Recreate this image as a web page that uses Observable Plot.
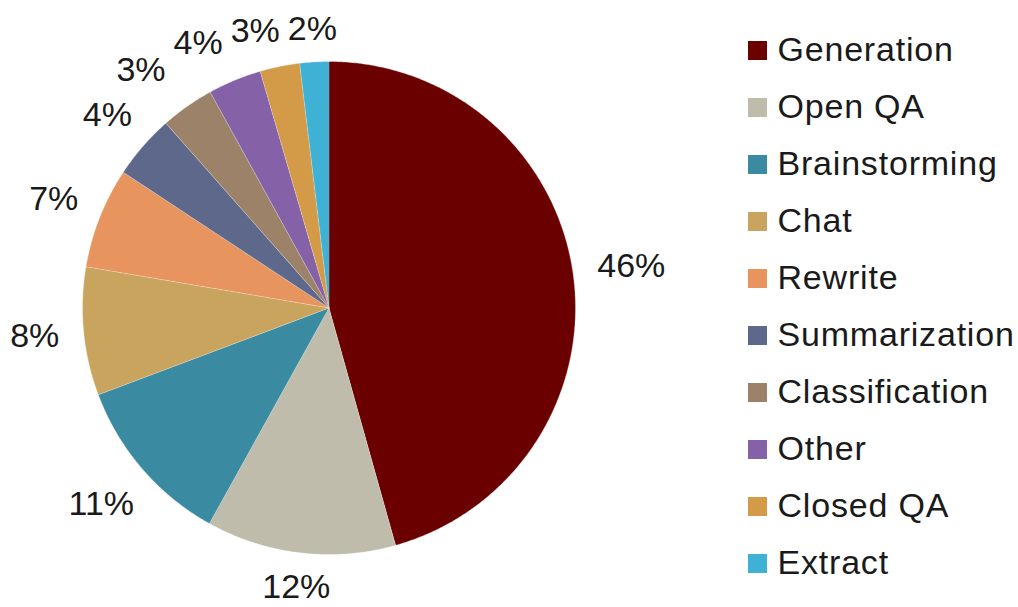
<!DOCTYPE html>
<html>
<head>
<meta charset="utf-8">
<script src="https://cdn.jsdelivr.net/npm/d3@7"></script>
<script src="https://cdn.jsdelivr.net/npm/@observablehq/plot@0.6"></script>
<style>
  html, body { margin: 0; padding: 0; background: #fff; }
  #wrap { position: relative; width: 1018px; height: 607px; overflow: hidden; }
  #legend { position: absolute; left: 728px; top: 0; }
</style>
</head>
<body>
<div id="wrap"><div id="pie"></div><div id="legend"></div></div>
<script>
const categories = ["Generation", "Open QA", "Brainstorming", "Chat", "Rewrite", "Summarization", "Classification", "Other", "Closed QA", "Extract"];
const shares = [45.6, 12.4, 11.2, 8.4, 6.6, 4.2, 3.5, 3.5, 2.6, 1.9];
const labelTexts = ["46%", "12%", "11%", "8%", "7%", "4%", "3%", "4%", "3%", "2%"];
const colors = ["#6b0000", "#bfbcab", "#3a8ba2", "#c9a45f", "#e8945f", "#5e688a", "#9c8268", "#8561a8", "#d39a47", "#3fb1d4"];

const FONT = "'Liberation Sans', Arial, Helvetica, sans-serif";
const FS = 34;
const R = 246.5; // pixel radius (x/y scale: 1 unit = R px)

const rows = categories.map((c, i) => ({cat: c, share: shares[i], label: labelTexts[i]}));
const arcs = d3.pie().sort(null).value(d => d.share)(rows);

// wedge outlines in data space (unit circle)
const wedgePts = [];
for (const a of arcs) {
  const n = Math.max(2, Math.ceil((a.endAngle - a.startAngle) / (Math.PI / 360)));
  wedgePts.push({cat: a.data.cat, x: 0, y: 0});
  for (let k = 0; k <= n; k++) {
    const t = a.startAngle + (a.endAngle - a.startAngle) * k / n;
    wedgePts.push({cat: a.data.cat, x: Math.sin(t), y: Math.cos(t)});
  }
}

// label positions: outside end, with simple overlap avoidance
const pad = 24, gap = 8, hh = 7;
const lab = arcs.map(a => {
  const m = (a.startAngle + a.endAngle) / 2;
  const s = Math.sin(m), c = Math.cos(m);
  const t = a.data.label;
  const hw = ((t.length - 1) * 0.556 + 0.889) * FS / 2;
  const d = R + pad + hw * Math.abs(s) + hh * Math.abs(c);
  return {text: t, px: s * d, py: -c * d, hw};
});
// sweep from the last slice backwards, pushing labels left when overlapping
for (let i = lab.length - 2; i >= 0; i--) {
  const a = lab[i], b = lab[i + 1];
  const overlapY = Math.abs(a.py - b.py) < 30;
  const right = a.px + a.hw, left = b.px - b.hw;
  if (overlapY && right > left - gap && a.px < b.px + b.hw) {
    a.px -= (right - left + gap);
  }
}
const labelRows = lab.map(l => ({text: l.text, x: l.px / R, y: -l.py / R}));

const pie = Plot.plot({
  width: 1018, height: 607,
  marginLeft: 82, marginRight: 443, marginTop: 61, marginBottom: 53,
  x: {domain: [-1, 1], axis: null},
  y: {domain: [-1, 1], axis: null},
  color: {domain: categories, range: colors},
  style: {fontFamily: FONT, background: "white", overflow: "visible"},
  marks: [
    Plot.line(wedgePts, {x: "x", y: "y", z: "cat", fill: "cat", stroke: "white", strokeWidth: 0.5, strokeOpacity: 0.6}),
    Plot.text(labelRows, {x: "x", y: "y", text: "text", fontSize: FS, fill: "#1a1a1a", fontFamily: FONT})
  ]
});
document.getElementById("pie").appendChild(pie);

const legend = Plot.plot({
  width: 290, height: 607,
  margin: 0,
  y: {type: "point", domain: categories, range: [46, 567], padding: 0, axis: null},
  color: {domain: categories, range: colors},
  style: {fontFamily: FONT, background: "transparent", overflow: "visible"},
  marks: [
    Plot.dot(categories, {y: d => d, fill: d => d, symbol: "square", r: 10.7, frameAnchor: "left", dx: 29, stroke: "none"}),
    Plot.text(categories, {y: d => d, text: d => d, frameAnchor: "left", dx: 49, textAnchor: "start", fontSize: FS, fill: "#1a1a1a", fontFamily: FONT})
  ]
});
legend.querySelectorAll("text").forEach(t => t.setAttribute("letter-spacing", "0.8"));
document.getElementById("legend").appendChild(legend);
</script>
</body>
</html>
